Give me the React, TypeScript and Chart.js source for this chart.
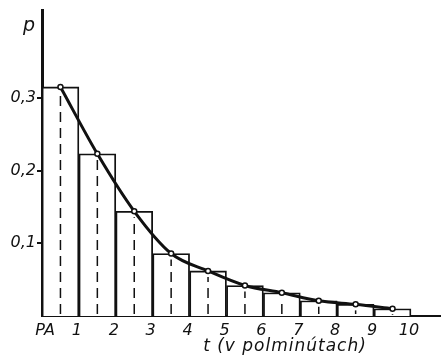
import React, { useEffect, useRef } from "react";
import { Chart, registerables } from "chart.js";

Chart.register(...registerables);

const binCenters = [0.5, 1.5, 2.5, 3.5, 4.5, 5.5, 6.5, 7.5, 8.5, 9.5];
const probabilities = [0.315, 0.223, 0.144, 0.086, 0.062, 0.042, 0.032, 0.021, 0.016, 0.01];
const xTickValues = [0, 1, 2, 3, 4, 5, 6, 7, 8, 9, 10];
const xTickLabels = ["  PA", "1", "2", "3", "4", "5", "6", "7", "8", "9", "10"];
const yTickValues = [0.1, 0.2, 0.3];
const yTickLabels = ["0,1", "0,2", "0,3"];
const xTitle = "t (v polminútach)";
const yTitle = "p";

const FONT = "'DejaVu Sans', sans-serif";
const INK = "#111";

const overlayPlugin = {
  id: "overlay",
  afterDatasetDraw(chart: any, args: any) {
    if (args.index !== 0) return;
    const ctx = chart.ctx;
    const meta = chart.getDatasetMeta(0);
    ctx.save();
    ctx.strokeStyle = INK;
    ctx.lineWidth = 1.5;
    ctx.setLineDash([10, 6]);
    meta.data.forEach((bar: any) => {
      ctx.beginPath();
      ctx.moveTo(bar.x, bar.base - 2);
      ctx.lineTo(bar.x, bar.y + 6);
      ctx.stroke();
    });
    ctx.restore();
  },
  afterDraw(chart: any) {
    const ctx = chart.ctx;
    ctx.save();
    ctx.fillStyle = INK;
    ctx.font = `italic 17px ${FONT}`;
    (ctx as any).letterSpacing = "1px";
    ctx.textAlign = "center";
    ctx.textBaseline = "middle";
    ctx.fillText(xTitle, 285, 347);
    (ctx as any).letterSpacing = "0px";
    ctx.font = `italic 19px ${FONT}`;
    ctx.fillText(yTitle, 29, 26);
    ctx.restore();
  },
};

export default function App() {
  const ref = useRef<HTMLCanvasElement | null>(null);

  useEffect(() => {
    if (!ref.current) return;
    const points = binCenters.map((x, i) => ({ x, y: probabilities[i] }));
    const chart = new Chart(ref.current, {
      type: "bar",
      data: {
        datasets: [
          {
            type: "bar",
            data: points,
            backgroundColor: "#fff",
            borderColor: INK,
            borderWidth: 1.8,
            barPercentage: 1,
            categoryPercentage: 1,
            order: 2,
          } as any,
          {
            type: "line",
            data: points,
            borderColor: INK,
            borderWidth: 3,
            cubicInterpolationMode: "monotone",
            pointRadius: 2.5,
            pointBackgroundColor: "#fff",
            pointBorderColor: INK,
            pointBorderWidth: 1.5,
            fill: false,
            order: 1,
          } as any,
        ],
      },
      options: {
        animation: false,
        responsive: false,
        layout: { padding: { top: 9, right: 3, left: 0, bottom: 0 } },
        plugins: { legend: { display: false }, tooltip: { enabled: false } },
        scales: {
          x: {
            type: "linear",
            min: 0,
            max: 10.8,
            offset: false,
            grid: { display: false, offset: false },
            border: { display: true, color: INK, width: 2 },
            afterBuildTicks: (s: any) => {
              s.ticks = xTickValues.map((value) => ({ value }));
            },
            ticks: {
              autoSkip: false,
              maxRotation: 0,
              padding: -3,
              labelOffset: -2,
              color: INK,
              font: { family: FONT, size: 16, style: "italic" },
              callback: (v: any) => {
                const i = xTickValues.indexOf(Number(v));
                return i >= 0 ? xTickLabels[i] : "";
              },
            },
            afterFit: (s: any) => {
              s.height = 46;
            },
          },
          y: {
            min: 0,
            max: 0.42,
            afterBuildTicks: (s: any) => {
              s.ticks = yTickValues.map((value) => ({ value }));
            },
            grid: {
              drawOnChartArea: false,
              drawTicks: true,
              tickLength: 5,
              lineWidth: 2,
              color: INK,
              tickColor: INK,
            },
            border: { display: true, color: INK, width: 3 },
            ticks: {
              padding: 1,
              color: INK,
              font: { family: FONT, size: 16, style: "italic" },
              callback: (v: any) => {
                const n = Number(v);
                const i = yTickValues.findIndex((t) => Math.abs(t - n) < 1e-9);
                return i >= 0 ? yTickLabels[i] : "";
              },
            },
            afterFit: (s: any) => {
              s.width = 42;
            },
          },
        },
      },
      plugins: [overlayPlugin],
    });
    return () => chart.destroy();
  }, []);

  return (
    <div style={{ position: "absolute", left: 0, top: 0, width: 446, height: 362, background: "#fff" }}>
      <canvas ref={ref} width={446} height={362} />
    </div>
  );
}
